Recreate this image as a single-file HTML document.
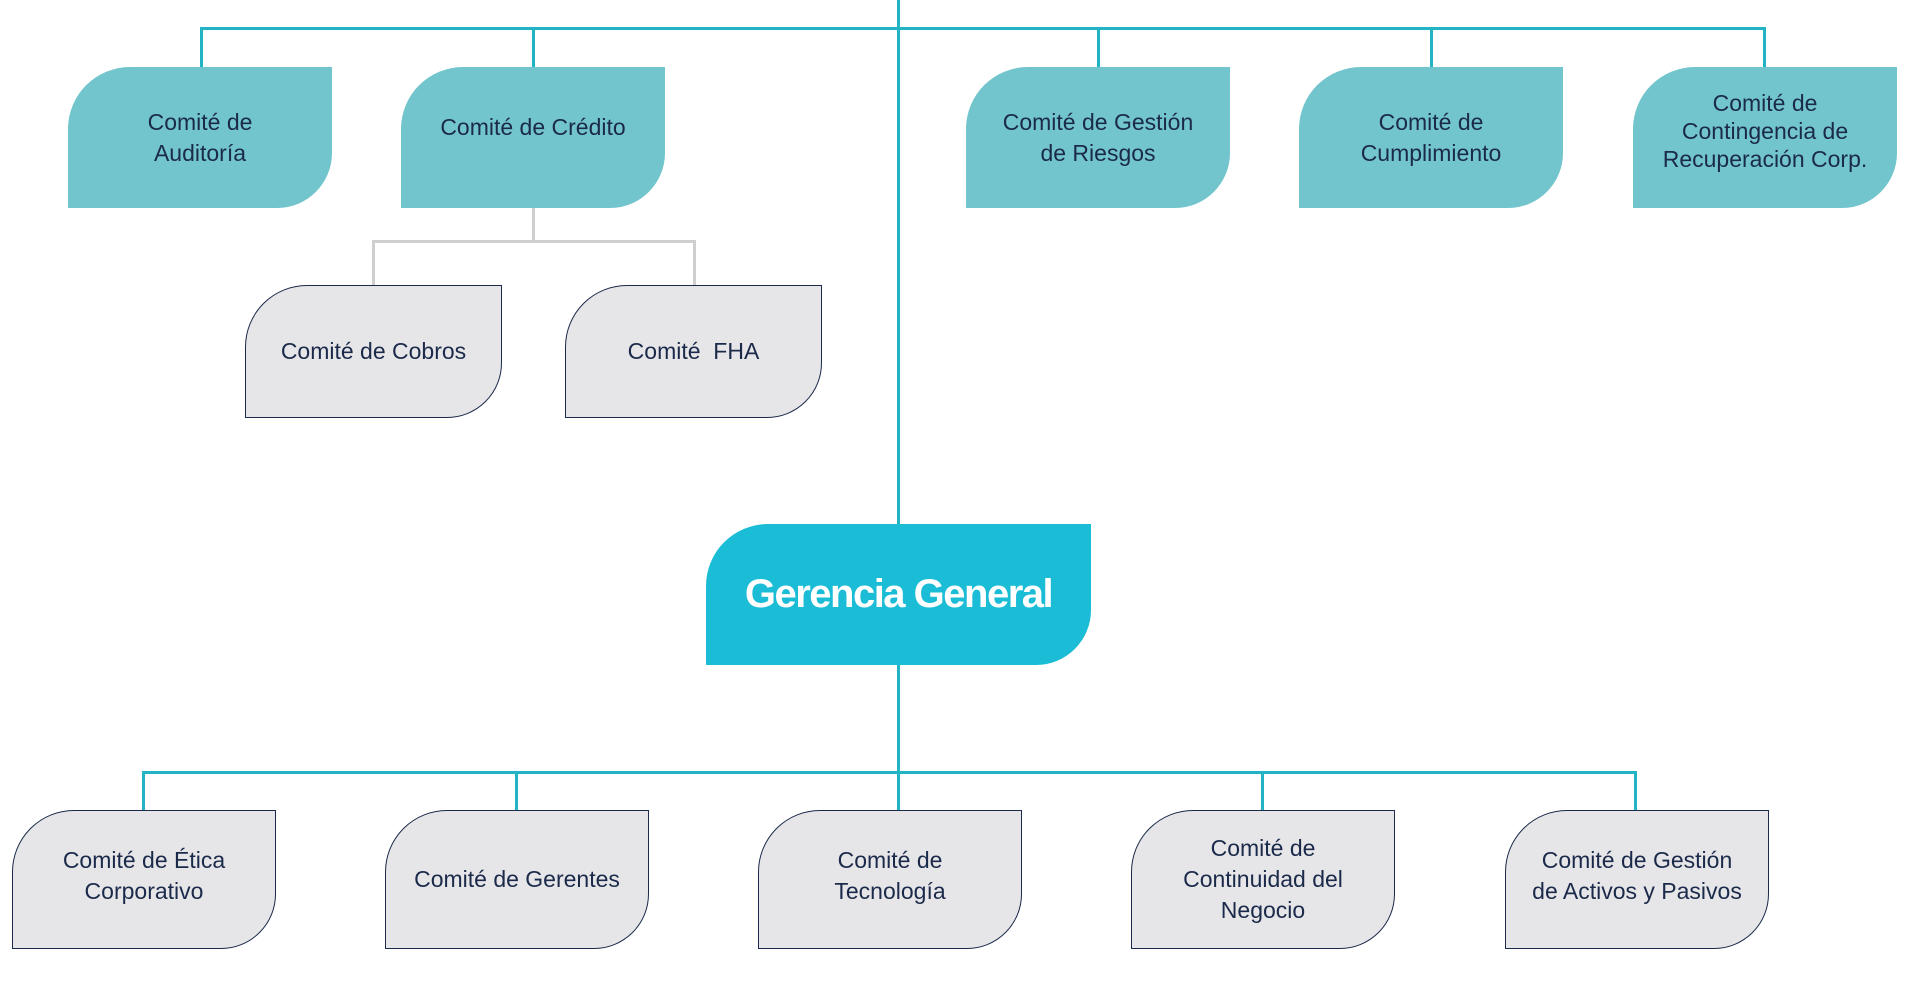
<!DOCTYPE html>
<html><head><meta charset="utf-8"><style>
body{margin:0;width:1918px;height:982px;background:#fff;position:relative;overflow:hidden;font-family:"Liberation Sans",sans-serif;}
.l{position:absolute;background:#22B4C4;}
.g{position:absolute;background:#cfcfcf;}
.b{position:absolute;display:flex;align-items:center;justify-content:center;text-align:center;color:#1b2a4a;font-size:23px;line-height:31px;border-radius:62px 0 55px 0;box-sizing:border-box;}
.t{background:#72C5CC;}
.y{background:#E6E6E8;border:1.5px solid #1b2a4a;}
</style></head><body>
<div class="l" style="left:897px;top:0;width:3px;height:524px"></div>
<div class="l" style="left:200px;top:27px;width:1566px;height:3px"></div>
<div class="l" style="left:200px;top:27px;width:3px;height:40px"></div>
<div class="l" style="left:532px;top:27px;width:3px;height:40px"></div>
<div class="l" style="left:1097px;top:27px;width:3px;height:40px"></div>
<div class="l" style="left:1430px;top:27px;width:3px;height:40px"></div>
<div class="l" style="left:1763px;top:27px;width:3px;height:40px"></div>
<div class="g" style="left:532px;top:208px;width:3px;height:34px"></div>
<div class="g" style="left:372px;top:240px;width:324px;height:3px"></div>
<div class="g" style="left:372px;top:240px;width:3px;height:46px"></div>
<div class="g" style="left:693px;top:240px;width:3px;height:46px"></div>
<div class="l" style="left:897px;top:665px;width:3px;height:145px"></div>
<div class="l" style="left:142px;top:771px;width:1495px;height:3px"></div>
<div class="l" style="left:142px;top:771px;width:3px;height:40px"></div>
<div class="l" style="left:515px;top:771px;width:3px;height:40px"></div>
<div class="l" style="left:1261px;top:771px;width:3px;height:40px"></div>
<div class="l" style="left:1634px;top:771px;width:3px;height:40px"></div>

<div class="b t" style="left:68px;top:67px;width:264px;height:141px">Comité de<br>Auditoría</div>
<div class="b t" style="left:401px;top:67px;width:264px;height:141px;padding-bottom:20px">Comité de Crédito</div>
<div class="b t" style="left:966px;top:67px;width:264px;height:141px">Comité de Gestión<br>de Riesgos</div>
<div class="b t" style="left:1299px;top:67px;width:264px;height:141px">Comité de<br>Cumplimiento</div>
<div class="b t" style="left:1633px;top:67px;width:264px;height:141px;line-height:28px;padding-bottom:14px">Comité de<br>Contingencia de<br>Recuperación Corp.</div>

<div class="b y" style="left:245px;top:285px;width:257px;height:133px">Comité de Cobros</div>
<div class="b y" style="left:565px;top:285px;width:257px;height:133px">Comité&nbsp; FHA</div>

<div class="b" style="left:706px;top:524px;width:385px;height:141px;background:#1BBCD6;color:#fff;font-weight:bold;font-size:40px;letter-spacing:-1.5px">Gerencia General</div>

<div class="b y" style="left:12px;top:810px;width:264px;height:139px;padding-bottom:8px">Comité de Ética<br>Corporativo</div>
<div class="b y" style="left:385px;top:810px;width:264px;height:139px">Comité de Gerentes</div>
<div class="b y" style="left:758px;top:810px;width:264px;height:139px;padding-bottom:8px">Comité de<br>Tecnología</div>
<div class="b y" style="left:1131px;top:810px;width:264px;height:139px">Comité de<br>Continuidad del<br>Negocio</div>
<div class="b y" style="left:1505px;top:810px;width:264px;height:139px;padding-bottom:8px">Comité de Gestión<br>de Activos y Pasivos</div>
</body></html>
